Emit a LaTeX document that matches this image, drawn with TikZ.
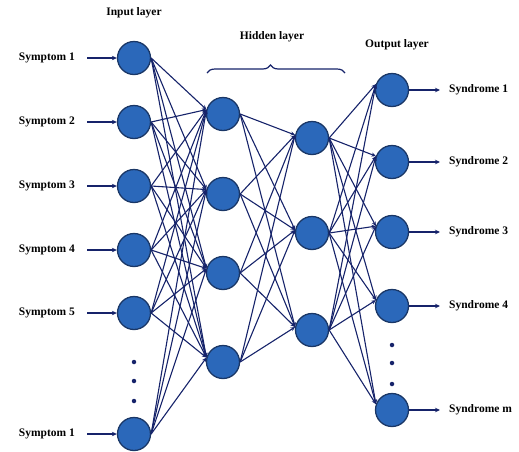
\documentclass[tikz,border=0pt]{standalone}
\usepackage{fontspec}
\setmainfont{Liberation Serif}
\usetikzlibrary{arrows.meta,decorations.pathreplacing}
\definecolor{neuronblue}{HTML}{2B68BA}
\definecolor{neuronedge}{HTML}{1A3766}
\definecolor{linknavy}{HTML}{16236A}
\tikzstyle{neuron} = [circle,draw=neuronedge,line width=1.3pt,fill=neuronblue,minimum size=33pt,inner sep=0pt]
\tikzstyle{lbl} = [inner sep=0pt,font=\fontsize{11.5}{13}\selectfont\bfseries]

\begin{document}
\begin{tikzpicture}
		[
		x=1pt,y=-1pt,
		link/.style={
		draw=linknavy,
		line width=1.1pt,
		-{Stealth[length=4.5pt,width=4pt]}},
		feed/.style={
		draw=linknavy,
		line width=1.6pt,
		-{Stealth[length=5pt,width=4.5pt]}},
		vdot/.style={circle,fill=linknavy,inner sep=0pt,minimum size=4.5pt}
		]
		\useasboundingbox (0,0) rectangle (519,451);
		% input layer
		\node[neuron](in1) at (134,58) {};
		\node[neuron](in2) at (134,122) {};
		\node[neuron](in3) at (134,186) {};
		\node[neuron](in4) at (134,250) {};
		\node[neuron](in5) at (134,313) {};
		\node[neuron](in6) at (134,434) {};
		\node[vdot](idot1) at (134,362) {};
		\node[vdot](idot2) at (134,381) {};
		\node[vdot](idot3) at (134,401) {};
		% hidden layers
		\node[neuron](ha1) at (223,114) {};
		\node[neuron](ha2) at (223,194) {};
		\node[neuron](ha3) at (223,273) {};
		\node[neuron](ha4) at (223,362) {};
		\node[neuron](hb1) at (312,138) {};
		\node[neuron](hb2) at (312,233) {};
		\node[neuron](hb3) at (312,330) {};
		% output layer
		\node[neuron](out1) at (392,90) {};
		\node[neuron](out2) at (392,162) {};
		\node[neuron](out3) at (392,232) {};
		\node[neuron](out4) at (392,306) {};
		\node[neuron](out5) at (392,410) {};
		\node[vdot](odot1) at (392,345) {};
		\node[vdot](odot2) at (392,363) {};
		\node[vdot](odot3) at (392,384) {};
		% labels
		\node[lbl,anchor=east](sym1) at (75,58) {Symptom 1};
		\node[lbl,anchor=east](sym2) at (75,122) {Symptom 2};
		\node[lbl,anchor=east](sym3) at (75,186) {Symptom 3};
		\node[lbl,anchor=east](sym4) at (75,250) {Symptom 4};
		\node[lbl,anchor=east](sym5) at (75,313) {Symptom 5};
		\node[lbl,anchor=east](sym6) at (75,434) {Symptom 1};
		\node[lbl,anchor=west](syn1) at (449,90) {Syndrome 1};
		\node[lbl,anchor=west](syn2) at (449,162) {Syndrome 2};
		\node[lbl,anchor=west](syn3) at (449,232) {Syndrome 3};
		\node[lbl,anchor=west](syn4) at (449,306) {Syndrome 4};
		\node[lbl,anchor=west](syn5) at (449,410) {Syndrome m};
		\node[lbl](inputtitle) at (134,13) {Input layer};
		\node[lbl](hiddentitle) at (272,37) {Hidden layer};
		\node[lbl](outputtitle) at (397,45) {Output layer};
		\coordinate (braceL) at (207,73);
		\coordinate (braceR) at (345,73);
		\draw[draw=linknavy,line width=1.2pt,decorate,decoration={brace,amplitude=8pt,aspect=0.46}] (braceL) -- (braceR);
		% connections
		\foreach \i in {1,...,6}
		  \foreach \j in {1,...,4}
		    \draw[link] (in\i.east) -- (ha\j.165);
		\foreach \i in {1,...,4}
		  \foreach \j in {1,...,3}
		    \draw[link] (ha\i.east) -- (hb\j.170);
		\foreach \i in {1,...,3}
		  \foreach \j in {1,...,5}
		    \draw[link] (hb\i.east) -- (out\j.160);
		\foreach \i in {1,...,6}
		  \draw[feed,shorten <=12pt] (sym\i.east) -- (in\i);
		\foreach \j in {1,...,5}
		  \draw[feed,shorten >=9pt] (out\j) -- (syn\j.west);
		\end{tikzpicture}
\end{document}
